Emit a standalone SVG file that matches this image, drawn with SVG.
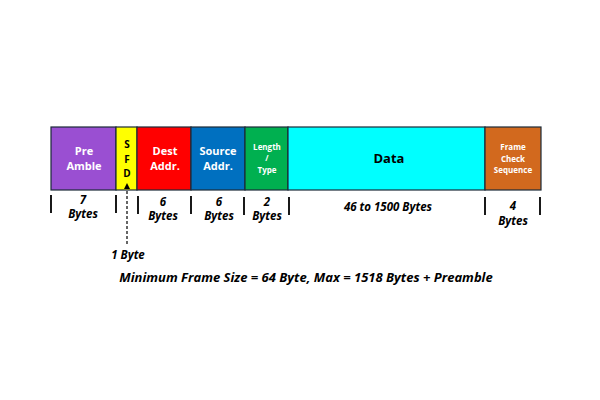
<svg xmlns="http://www.w3.org/2000/svg" width="600" height="400" viewBox="0 0 600 400">
<defs>
<style>
.box{stroke:#1c2a38;stroke-width:1.2}
.w{fill:#ffffff;font-family:"Open Sans","Liberation Sans",sans-serif;font-weight:bold;text-anchor:middle}
.k{fill:#000000;font-family:"Open Sans","Liberation Sans",sans-serif;font-weight:bold;text-anchor:middle}
.lbl{fill:#000000;font-family:"Open Sans","Liberation Sans",sans-serif;font-weight:bold;font-style:italic;text-anchor:middle;font-size:11.5px}
.tick{stroke:#000000;stroke-width:1.8}
</style>
<marker id="ah" viewBox="0 0 6 6" refX="5" refY="3" markerWidth="5" markerHeight="5" orient="auto">
<path d="M0,0 L6,3 L0,6 Z" fill="#000"/>
</marker>
</defs>
<rect width="600" height="400" fill="#ffffff"/>
<g id="preamble"><rect class="box" x="51" y="127" width="65" height="63" fill="#9a4fd2"/><text class="w" font-size="11" x="84" y="155">Pre</text><text class="w" font-size="11" x="84" y="170">Amble</text></g>
<g id="sfd"><rect class="box" x="116" y="127" width="21" height="63" fill="#ffff00"/><text class="k" font-size="10" x="127" y="148">S</text><text class="k" font-size="10" x="127" y="162.5">F</text><text class="k" font-size="10" x="127" y="177">D</text></g>
<g id="dest"><rect class="box" x="137" y="127" width="54" height="63" fill="#ff0000"/><text class="w" font-size="11" x="165" y="155">Dest</text><text class="w" font-size="11" x="165" y="170">Addr.</text></g>
<g id="source"><rect class="box" x="191" y="127" width="54" height="63" fill="#0070c0"/><text class="w" font-size="11" x="218" y="155">Source</text><text class="w" font-size="11" x="218" y="170">Addr.</text></g>
<g id="length"><rect class="box" x="245" y="127" width="43" height="63" fill="#00b050"/><text class="w" font-size="8" x="267" y="150">Length</text><text class="w" font-size="8" x="267" y="161">/</text><text class="w" font-size="8" x="267" y="173">Type</text></g>
<g id="data"><rect class="box" x="288" y="127" width="197" height="63" fill="#00ffff"/><text class="k" font-size="13" x="389" y="163">Data</text></g>
<g id="fcs"><rect class="box" x="485" y="127" width="56" height="63" fill="#d2691e"/><text class="w" font-size="8" x="513" y="150">Frame</text><text class="w" font-size="8" x="513" y="161.5">Check</text><text class="w" font-size="8" x="513" y="173">Sequence</text></g>
<g id="connectors">
<line class="tick" x1="51" y1="195" x2="51" y2="213"/>
<line class="tick" x1="116" y1="195" x2="116" y2="213"/>
<line class="tick" x1="138" y1="196" x2="138" y2="214"/>
<line class="tick" x1="191" y1="196" x2="191" y2="214"/>
<line class="tick" x1="244" y1="197" x2="244" y2="215"/>
<line class="tick" x1="289" y1="197" x2="289" y2="215"/>
<line class="tick" x1="485" y1="197" x2="485" y2="215"/>
<line class="tick" x1="540" y1="197" x2="540" y2="215"/>
<line x1="127" y1="244" x2="127" y2="184" stroke="#000" stroke-width="1.2" stroke-dasharray="3,2" marker-end="url(#ah)"/>
</g>
<g id="labels">
<text class="lbl" x="83" y="204">7</text><text class="lbl" x="83" y="218">Bytes</text>
<text class="lbl" x="163" y="206">6</text><text class="lbl" x="163" y="220">Bytes</text>
<text class="lbl" x="219" y="206">6</text><text class="lbl" x="219" y="220">Bytes</text>
<text class="lbl" x="267" y="206">2</text><text class="lbl" x="267" y="220">Bytes</text>
<text class="lbl" x="388" y="211">46 to 1500 Bytes</text>
<text class="lbl" x="513" y="210">4</text><text class="lbl" x="513" y="225">Bytes</text>
<text class="lbl" x="128" y="259">1 Byte</text>
<text class="lbl" x="306" y="282" style="font-size:13px">Minimum Frame Size = 64 Byte, Max = 1518 Bytes + Preamble</text>
</g>
</svg>
